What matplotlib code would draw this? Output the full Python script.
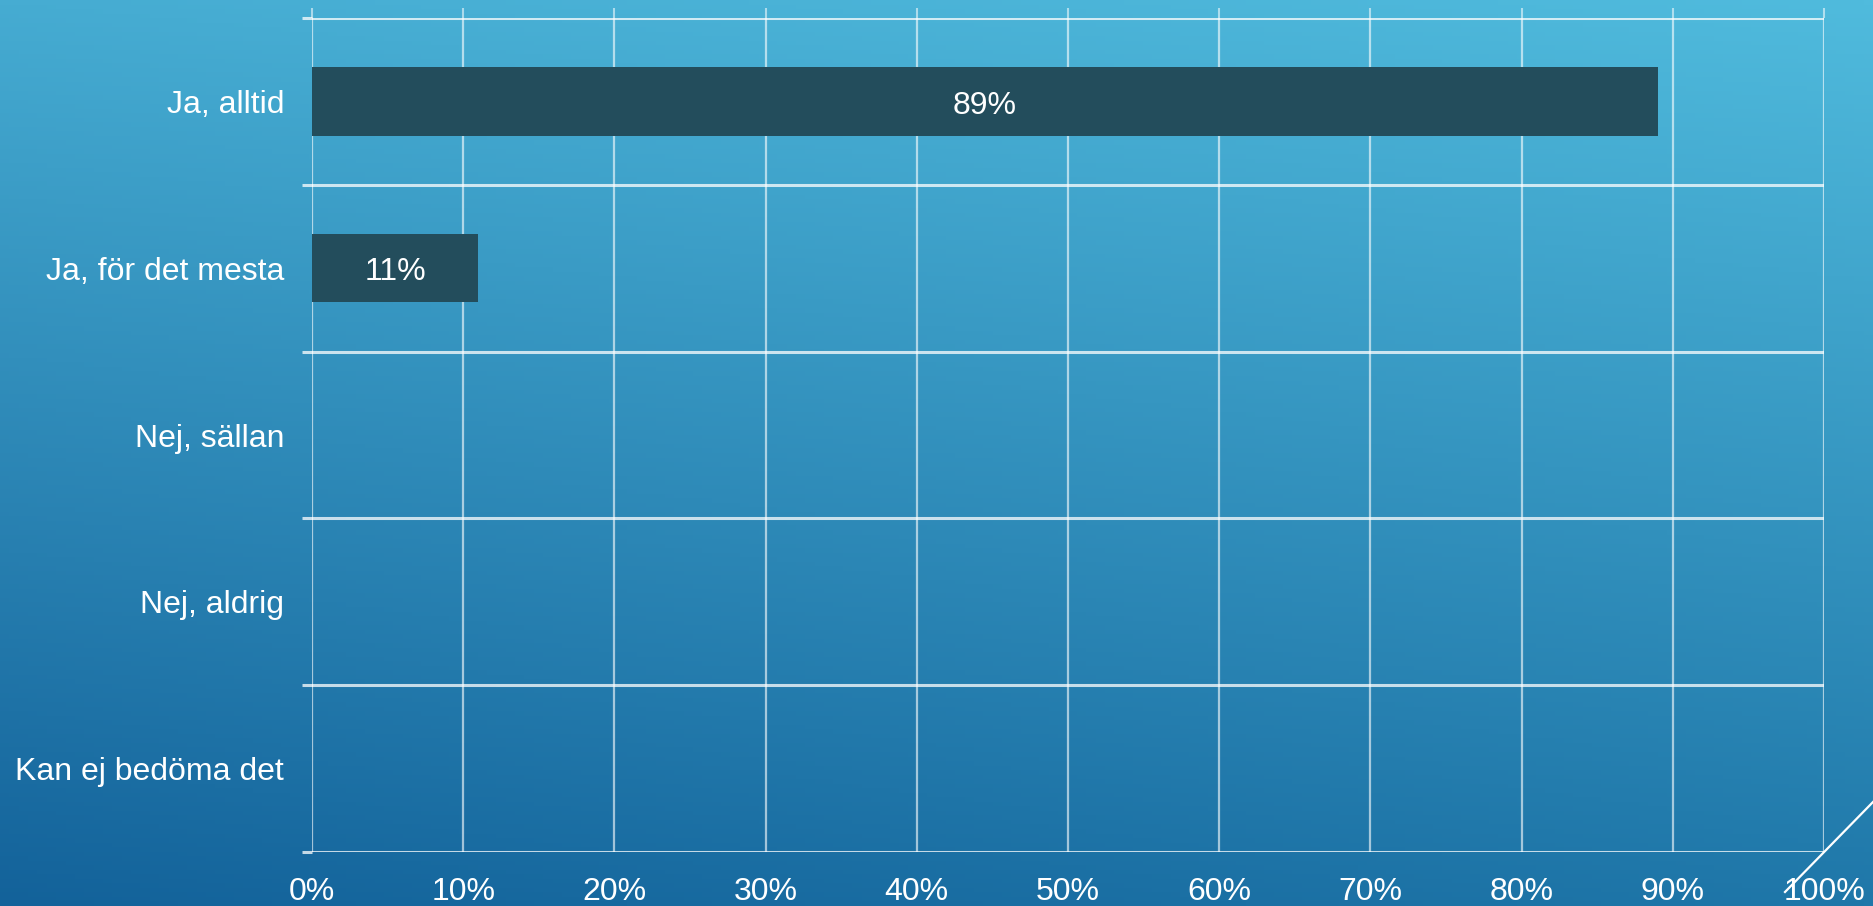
import numpy as np
import matplotlib
matplotlib.use('Agg')
import matplotlib.pyplot as plt
from matplotlib.colors import to_rgb
from matplotlib.lines import Line2D
from matplotlib.ticker import PercentFormatter

plt.rcParams['font.family'] = ['Liberation Sans', 'DejaVu Sans']

# --- DATA ---
categories = ['Ja, alltid', 'Ja, för det mesta', 'Nej, sällan', 'Nej, aldrig', 'Kan ej bedöma det']
shares = [0.89, 0.11, 0.0, 0.0, 0.0]
bar_labels = ['89%', '11%', '', '', '']
x_ticks = [i / 10 for i in range(11)]

# --- STYLE ---
BAR_COLOR = '#234d5c'
TL, TR = '#46acd2', '#50bbdd'
BL, BR = '#13629a', '#1f77a9'

fig = plt.figure(figsize=(18.73, 9.06), dpi=100)

# background gradient (slide theme)
bg = fig.add_axes([0, 0, 1, 1], zorder=-10)
n = 200
u = np.linspace(0, 1, n)
xx, yy = np.meshgrid(u, u)
tl, tr, bl, br = (np.array(to_rgb(c)) for c in (TL, TR, BL, BR))
img = ((1 - xx)[..., None] * ((1 - yy)[..., None] * tl + yy[..., None] * bl)
       + xx[..., None] * ((1 - yy)[..., None] * tr + yy[..., None] * br))
bg.imshow(img, extent=[0, 1, 0, 1], aspect='auto', origin='upper')
bg.axis('off')

ax = fig.add_axes([312 / 1873, 1 - 852 / 906, (1824 - 312) / 1873, (852 - 18) / 906])
ax.set_facecolor('none')

y = np.arange(len(categories))
bars = ax.barh(y, shares, height=0.41, color=BAR_COLOR, zorder=3)
for rect, lab in zip(bars, bar_labels):
    if lab:
        ax.text(rect.get_width() / 2, rect.get_y() + rect.get_height() / 2 + 0.025, lab,
                ha='center', va='center', color='white', fontsize=23, zorder=4)

ax.set_xlim(0, 1)
ax.set_ylim(len(categories) - 0.5, -0.5)
for s in ax.spines.values():
    s.set_visible(False)

# x axis: labels at bottom, short ticks on top
ax.set_xticks(x_ticks)
ax.xaxis.set_major_formatter(PercentFormatter(1.0, decimals=0))
ax.tick_params(axis='x', bottom=False, top=True, length=7.2, width=1.5,
               color=(1, 1, 1, 0.55), labelsize=23, labelcolor='white', pad=11)
ax.grid(axis='x', color='white', alpha=0.6, linewidth=1.6, zorder=1)

# y axis: category labels, boundary lines
ax.set_yticks(y)
ax.set_yticklabels(categories)
ax.set_yticks(np.arange(len(categories) + 1) - 0.5, minor=True)
ax.tick_params(axis='y', which='major', length=0, labelsize=23, labelcolor='white', pad=20)
ax.tick_params(axis='y', which='minor', length=7.2, width=2.2, color=(1, 1, 1, 0.75))
ax.grid(axis='y', which='minor', color='white', alpha=0.75, linewidth=2.2, zorder=2)
ax.grid(axis='y', which='major', visible=False)

# decorative diagonal from slide theme
fig.add_artist(Line2D([1785 / 1873, 1.02], [1 - 892 / 906, 1 - (802 - 0.02 * 1873 * 90 / 88) / 906],
                      transform=fig.transFigure, color='white', linewidth=1.6))

fig.savefig('out.png', dpi=100)
